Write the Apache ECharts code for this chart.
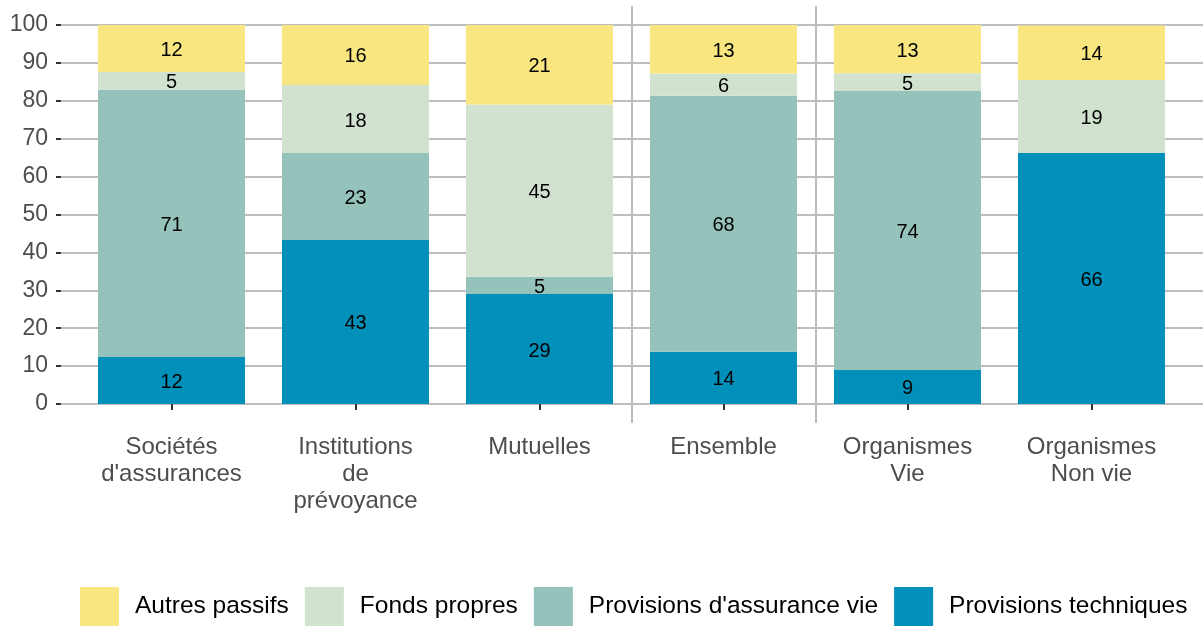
<!DOCTYPE html>
<html>
<head>
<meta charset="utf-8">
<script src="https://cdn.jsdelivr.net/npm/echarts@6/dist/echarts.min.js"></script>
<style>
  html, body { margin: 0; padding: 0; background: #fff; }
  #passifsChart { width: 1203px; height: 627px; }
</style>
</head>
<body>
<div id="passifsChart"></div>
<script>
// catégories (axe x)
const categories = [
  "Sociétés\nd'assurances",
  "Institutions\nde\nprévoyance",
  "Mutuelles",
  "Ensemble",
  "Organismes\nVie",
  "Organismes\nNon vie",
];
// parts en %
const provisionsTechniques = [12.4, 43.3, 29.0, 13.8, 9.0, 66.2];
const provisionsVie = [70.6, 22.9, 4.6, 67.5, 73.6, 0];
const fondsPropres = [4.6, 18.0, 45.4, 5.9, 4.7, 19.3];
const autresPassifs = [12.4, 15.8, 21.0, 12.8, 12.7, 14.4];
const yTicks = [0, 10, 20, 30, 40, 50, 60, 70, 80, 90, 100];
// séparations entre groupes : avant "Ensemble" et après "Ensemble"
const separators = [categories.indexOf("Ensemble") - 0.5, categories.indexOf("Ensemble") + 0.5];

const colors = {
  autres: "#F9E681",
  fonds: "#D1E3CF",
  vie: "#96C2BC",
  tech: "#0090B9",
};
const font = "Liberation Sans, Arial, sans-serif";

const chart = echarts.init(document.getElementById("passifsChart"));

function barSeries(name, data, color) {
  return {
    name: name,
    type: "bar",
    stack: "total",
    xAxisIndex: 1,
    yAxisIndex: 1,
    barWidth: 147,
    data: data,
    itemStyle: { color: color },
    label: {
      show: true,
      position: "inside",
      color: "#000",
      fontFamily: font,
      fontSize: 20,
      offset: [0, 2],
      formatter: (p) => (p.value > 0 ? String(Math.round(p.value)) : ""),
    },
    emphasis: { disabled: true },
  };
}

chart.setOption({
  animation: false,
  backgroundColor: "#fff",
  grid: [
    // quadrillage + axe y
    { left: 61, right: 0, top: 25, bottom: 223 },
    // barres
    { left: 79.5, right: 19.5, top: 25, bottom: 223 },
    // séparateurs verticaux (panneau complet, -5..105)
    { left: 79.5, right: 19.5, top: 6, bottom: 204 },
  ],
  xAxis: [
    { gridIndex: 0, type: "value", show: false, min: 0, max: 1 },
    {
      gridIndex: 1,
      type: "category",
      data: categories,
      offset: 19,
      axisLine: { show: false },
      axisTick: {
        show: true,
        alignWithLabel: true,
        length: 6,
        lineStyle: { color: "#333", width: 2 },
      },
      axisLabel: {
        color: "#4D4D4D",
        fontFamily: font,
        fontSize: 24,
        lineHeight: 27,
        margin: 11,
        interval: 0,
      },
      splitLine: { show: false },
    },
    { gridIndex: 2, type: "value", min: -0.5, max: categories.length - 0.5, show: false },
  ],
  yAxis: [
    {
      gridIndex: 0,
      type: "value",
      min: yTicks[0],
      max: yTicks[yTicks.length - 1],
      interval: 10,
      axisLine: { show: false },
      axisTick: { show: true, length: 5, lineStyle: { color: "#333", width: 2 } },
      axisLabel: {
        color: "#4D4D4D",
        fontFamily: font,
        fontSize: 23,
        margin: 13,
      },
      splitLine: { show: true, lineStyle: { color: "#BEBEBE", width: 2 } },
    },
    { gridIndex: 1, type: "value", min: 0, max: 100, show: false },
    { gridIndex: 2, type: "value", min: -5, max: 105, show: false },
  ],
  legend: {
    left: 80,
    top: 587,
    padding: 0,
    itemWidth: 39,
    itemHeight: 39,
    itemGap: 16,
    icon: "rect",
    selectedMode: false,
    data: ["Autres passifs", "Fonds propres", "Provisions d'assurance vie", "Provisions techniques"],
    textStyle: {
      color: "#000",
      fontFamily: font,
      fontSize: 24.5,
      padding: [0, 0, 0, 11],
    },
  },
  series: [
    barSeries("Provisions techniques", provisionsTechniques, colors.tech),
    barSeries("Provisions d'assurance vie", provisionsVie, colors.vie),
    barSeries("Fonds propres", fondsPropres, colors.fonds),
    barSeries("Autres passifs", autresPassifs, colors.autres),
    {
      name: "separateurs",
      type: "line",
      xAxisIndex: 2,
      yAxisIndex: 2,
      data: [],
      silent: true,
      markLine: {
        silent: true,
        symbol: "none",
        label: { show: false },
        lineStyle: { color: "#BEBEBE", width: 2, type: "solid" },
        data: separators.map((x) => ({ xAxis: x })),
      },
    },
  ],
});
</script>
</body>
</html>
